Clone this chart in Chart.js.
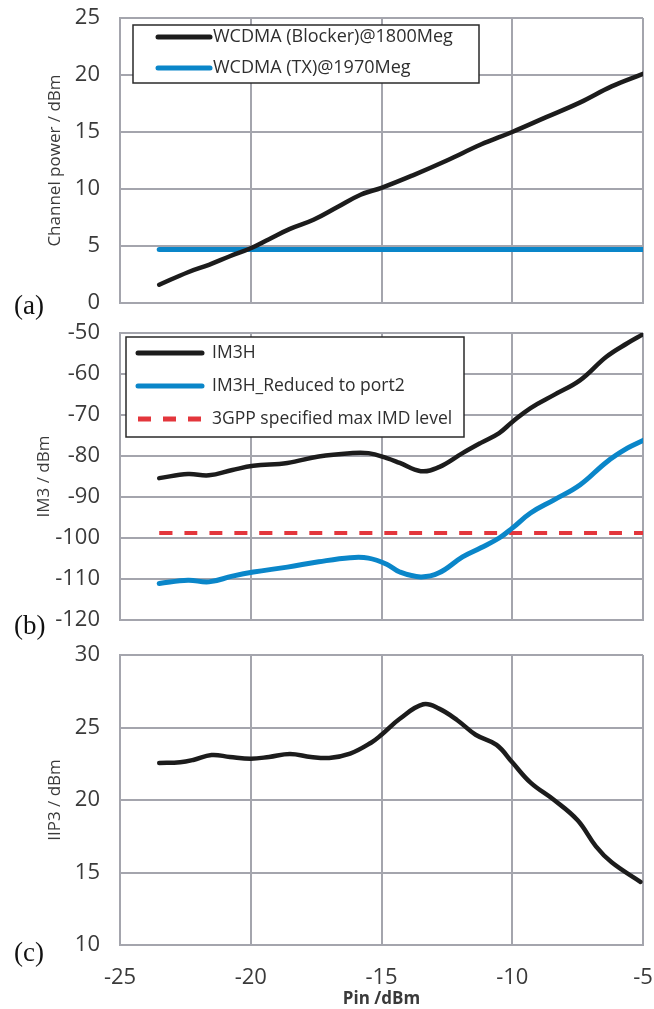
<!DOCTYPE html>
<html>
<head>
<meta charset="utf-8">
<script src="https://cdn.jsdelivr.net/npm/chart.js@4.4.0/dist/chart.umd.min.js"></script>
<style>
  body { margin: 0; background: #fff; width: 654px; height: 1009px; position: relative; overflow: hidden; }
  canvas { position: absolute; left: 0; }
  .tag { position: absolute; left: 14px; font-family: "Liberation Serif", serif; font-size: 27px; line-height: 27px; color: #111; }
</style>
</head>
<body>
<canvas id="chartA" width="654" height="318" style="top:0"></canvas>
<canvas id="chartB" width="654" height="322" style="top:318px"></canvas>
<canvas id="chartC" width="654" height="369" style="top:640px"></canvas>
<div class="tag" style="top:292px">(a)</div>
<div class="tag" style="top:612px">(b)</div>
<div class="tag" style="top:939px">(c)</div>
<script>
// (a) channel power
const pinA = [-23.5, -22.4, -21.6, -20.8, -20, -19.3, -18.5, -17.6, -16.7, -15.8, -15, -13.8, -12.5, -11.2, -10, -8.7, -7.4, -6.2, -5];
const blockerPower = [1.6, 2.7, 3.35, 4.1, 4.8, 5.6, 6.5, 7.3, 8.4, 9.5, 10.1, 11.2, 12.5, 13.9, 15.0, 16.3, 17.6, 19.0, 20.1];
const txPin = [-23.5, -5];
const txPower = [4.7, 4.7];

// (b) IM3
const pinB = [-23.5, -22.4, -21.6, -20.7, -19.9, -18.6, -17.4, -16.2, -15.5, -14.8, -14.3, -13.5, -12.8, -11.9, -11.2, -10.5, -10, -9.3, -8.4, -7.4, -6.4, -5.6, -5];
const im3h = [-85.4, -84.4, -84.7, -83.4, -82.4, -81.7, -80.1, -79.3, -79.3, -80.5, -81.7, -83.7, -82.7, -79.3, -76.8, -74.4, -71.7, -68.3, -65.1, -61.5, -55.8, -52.5, -50.3];
const im3hPort2 = [-111.1, -110.3, -110.7, -109.3, -108.3, -107.1, -105.8, -104.8, -104.9, -106.4, -108.3, -109.5, -108.5, -104.6, -102.4, -100.0, -97.6, -93.9, -90.7, -87.0, -81.5, -78.1, -76.2];
const limitPin = [-23.5, -5];
const imdLimit = [-98.8, -98.8];

// (c) IIP3
const pinC = [-23.5, -22.7, -22.2, -21.5, -20.8, -20, -19.3, -18.5, -17.7, -17, -16.2, -15.4, -15, -14.3, -13.4, -12.8, -12.1, -11.4, -10.6, -10, -9.3, -8.4, -7.5, -6.8, -6.2, -5.1];
const iip3 = [22.55, 22.6, 22.76, 23.1, 22.97, 22.85, 22.97, 23.17, 22.97, 22.9, 23.2, 23.95, 24.5, 25.6, 26.6, 26.3, 25.5, 24.5, 23.8, 22.6, 21.2, 20.0, 18.6, 16.8, 15.7, 14.35];

const xTicks = [-25, -20, -15, -10, -5];

const FONT = '"Open Sans", sans-serif';
const GRID = '#a4a5ad';
const TXT = '#3a3a3a';

function pts(xs, ys) {
    return xs.map((x, i) => ({x: x, y: ys[i]}));
}

// boxed legend drawn inside the plot
const boxLegend = {
    id: 'boxLegend',
    afterDraw(chart, args, o) {
        if (!o || !o.w) return;
        const ctx = chart.ctx;
        ctx.save();
        ctx.fillStyle = '#fff';
        ctx.fillRect(o.x, o.y, o.w, o.h);
        ctx.strokeStyle = '#2a2a2a';
        ctx.lineWidth = 1.5;
        ctx.strokeRect(o.x, o.y, o.w, o.h);
        chart.data.datasets.forEach((ds, i) => {
            const cy = o.y + o.first + i * o.rowH;
            ctx.beginPath();
            ctx.setLineDash(ds.borderDash || []);
            ctx.lineCap = ds.borderDash ? 'butt' : 'round';
            ctx.strokeStyle = ds.borderColor;
            ctx.lineWidth = 5;
            ctx.moveTo(o.lineX, cy);
            ctx.lineTo(o.lineX + o.lineLen, cy);
            ctx.stroke();
            ctx.setLineDash([]);
            ctx.fillStyle = '#2e2e2e';
            ctx.font = o.font;
            ctx.textBaseline = 'middle';
            ctx.fillText(ds.label, o.textX, cy);
        });
        ctx.restore();
    }
};

// tick marks are invisible, their length just spaces the labels off the plot
function yAxis(min, max, step, title, titlePad) {
    return {
        min: min, max: max,
        ticks: {stepSize: step, padding: 0, color: TXT, font: {family: FONT, size: 22}},
        grid: {color: GRID, lineWidth: 2, drawTicks: true, tickLength: 20, tickColor: 'rgba(0,0,0,0)'},
        border: {display: true, color: GRID, width: 2},
        title: {display: true, text: title, color: TXT, font: {family: FONT, size: 17}, padding: {top: titlePad, bottom: 0}},
        afterFit(s) { s.width = 120; }
    };
}

function xAxis(showLabels, h) {
    return {
        type: 'linear', min: -25, max: -5,
        afterBuildTicks(s) { s.ticks = xTicks.map(v => ({value: v})); },
        ticks: {display: showLabels, padding: 0, color: TXT, font: {family: FONT, size: 22}},
        grid: {color: GRID, lineWidth: 2, drawTicks: true, tickLength: 20, tickColor: 'rgba(0,0,0,0)'},
        border: {display: true, color: GRID, width: 2},
        title: {display: showLabels, text: 'Pin /dBm', color: TXT, font: {family: FONT, size: 17, weight: 'bold'}, padding: {top: 0, bottom: 0}},
        afterFit(s) { s.height = h; }
    };
}

function line(label, xs, ys, color, width, dash) {
    const d = {
        label: label, data: pts(xs, ys), borderColor: color, backgroundColor: color,
        borderWidth: width, pointRadius: 0, tension: 0.4, borderCapStyle: 'round', fill: false
    };
    if (dash) { d.borderDash = dash; d.borderCapStyle = 'butt'; }
    return d;
}

function baseOptions(pad, scales, legendOpts) {
    return {
        responsive: false, animation: false,
        layout: {padding: pad},
        plugins: {legend: {display: false}, tooltip: {enabled: false}, boxLegend: legendOpts},
        scales: scales
    };
}

new Chart(document.getElementById('chartA'), {
    type: 'line',
    data: {datasets: [
        line('WCDMA (Blocker)@1800Meg', pinA, blockerPower, '#1c1c1c', 4.5),
        line('WCDMA (TX)@1970Meg', txPin, txPower, '#0a86c9', 5)
    ]},
    options: baseOptions({top: 18, right: 11, left: 0, bottom: 0}, {
        x: xAxis(false, 15),
        y: yAxis(0, 25, 5, 'Channel power / dBm', 45)
    }, {x: 133, y: 25, w: 346, h: 58, first: 12, rowH: 31, lineX: 158, lineLen: 52, textX: 213, font: '18px ' + FONT}),
    plugins: [boxLegend]
});

new Chart(document.getElementById('chartB'), {
    type: 'line',
    data: {datasets: [
        line('IM3H', pinB, im3h, '#1c1c1c', 4.5),
        line('IM3H_Reduced to port2', pinB, im3hPort2, '#0a86c9', 5),
        line('3GPP specified max IMD level', limitPin, imdLimit, '#e3363c', 4, [13, 12])
    ]},
    options: baseOptions({top: 15, right: 11, left: 0, bottom: 0}, {
        x: xAxis(false, 20),
        y: yAxis(-120, -50, 10, 'IM3 / dBm', 34)
    }, {x: 126, y: 19, w: 338, h: 100, first: 16, rowH: 33, lineX: 138, lineLen: 64, textX: 212, font: '17.5px ' + FONT}),
    plugins: [boxLegend]
});

new Chart(document.getElementById('chartC'), {
    type: 'line',
    data: {datasets: [
        line('IIP3', pinC, iip3, '#1c1c1c', 4.5)
    ]},
    options: baseOptions({top: 15, right: 11, left: 0, bottom: 0}, {
        x: xAxis(true, 64),
        y: yAxis(10, 30, 5, 'IIP3 / dBm', 45)
    }, {}),
    plugins: [boxLegend]
});
</script>
</body>
</html>
